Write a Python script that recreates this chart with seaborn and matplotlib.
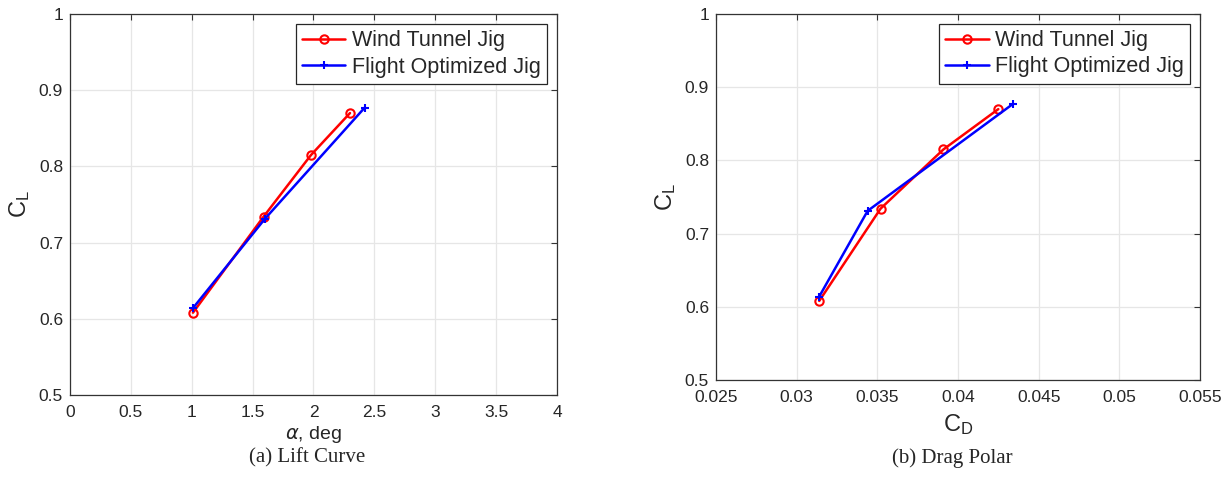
import matplotlib.pyplot as plt
import seaborn as sns
import pandas as pd

# lift curve
alpha_wt = [1.01, 1.59, 1.98, 2.30]
cl_wt = [0.608, 0.734, 0.815, 0.870]
alpha_fo = [1.01, 1.60, 2.42]
cl_fo = [0.614, 0.731, 0.877]

# drag polar
cd_wt = [0.0314, 0.0352, 0.0391, 0.0425]
cd_fo = [0.0314, 0.0344, 0.0434]

labels = ["Wind Tunnel Jig", "Flight Optimized Jig"]

sns.set_style("whitegrid")
plt.rcParams['font.family'] = ['Liberation Sans', 'DejaVu Sans']
plt.rcParams['mathtext.fontset'] = 'dejavusans'

fig = plt.figure(figsize=(12.3, 4.83), dpi=100)
ax1 = fig.add_axes([0.0569, 0.1822, 0.3959, 0.7888])
ax2 = fig.add_axes([0.5821, 0.2133, 0.3935, 0.7578])

def draw(ax, x_wt, x_fo):
    df_wt = pd.DataFrame({"x": x_wt, "y": cl_wt})
    df_fo = pd.DataFrame({"x": x_fo, "y": cl_fo})
    sns.lineplot(data=df_wt, x="x", y="y", ax=ax, sort=False, color="#ff0000",
                 lw=1.8, marker="o", markersize=6, markerfacecolor="none",
                 markeredgecolor="#ff0000", markeredgewidth=1.5, label=labels[0])
    sns.lineplot(data=df_fo, x="x", y="y", ax=ax, sort=False, color="#0000ff",
                 lw=1.8, marker="+", markersize=6, markeredgewidth=1.5,
                 markeredgecolor="#0000ff", label=labels[1])
    ax.grid(True, color="#e6e6e6", lw=0.9)
    for s in ax.spines.values():
        s.set_color("#333333")
        s.set_linewidth(0.9)
    ax.tick_params(direction="in", top=True, right=True, length=4,
                   color="#333333", labelsize=12.5, labelcolor="#262626")
    ax.tick_params(axis="x", pad=7)
    ax.tick_params(axis="y", pad=5)
    leg = ax.legend(loc="upper right", fontsize=15.5, frameon=True, fancybox=False,
                    edgecolor="#262626", framealpha=1, borderpad=0.3,
                    handlelength=2.0, handletextpad=0.3, labelspacing=0.25,
                    borderaxespad=0.45)
    leg.get_frame().set_linewidth(0.9)
    ax.set_ylim(0.5, 1.0)
    ax.set_yticks([0.5, 0.6, 0.7, 0.8, 0.9, 1.0])
    ax.set_yticklabels(["0.5", "0.6", "0.7", "0.8", "0.9", "1"])
    ax.set_ylabel(r"$\mathregular{C_L}$", fontsize=17, color="#262626", labelpad=5)

draw(ax1, alpha_wt, alpha_fo)
ax1.set_xlim(0, 4)
ax1.set_xticks([0, 0.5, 1, 1.5, 2, 2.5, 3, 3.5, 4])
ax1.set_xticklabels(["0", "0.5", "1", "1.5", "2", "2.5", "3", "3.5", "4"])
ax1.set_xlabel(r"$\alpha$, deg", fontsize=14, color="#262626", labelpad=3)

draw(ax2, cd_wt, cd_fo)
ax2.set_xlim(0.025, 0.055)
ax2.set_xticks([0.025, 0.03, 0.035, 0.04, 0.045, 0.05, 0.055])
ax2.set_xticklabels(["0.025", "0.03", "0.035", "0.04", "0.045", "0.05", "0.055"])
ax2.set_xlabel(r"$\mathregular{C_D}$", fontsize=17, color="#262626", labelpad=5)

fig.text(0.2496, 0.042, "(a) Lift Curve", ha="center", fontsize=15,
         family="Liberation Serif")
fig.text(0.774, 0.042, "(b) Drag Polar", ha="center", fontsize=15,
         family="Liberation Serif")

fig.savefig("out.png", dpi=100)
